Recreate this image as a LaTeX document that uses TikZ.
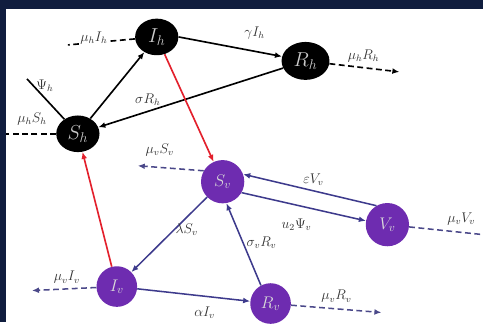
\documentclass[tikz,border=0pt]{standalone}
\usepackage{amsmath}
\usepackage{amssymb}
\usetikzlibrary{arrows.meta,shapes.geometric}
\definecolor{framenavy}{HTML}{101D3E}
\definecolor{vecpurple}{HTML}{6E2CB0}
\definecolor{vecline}{HTML}{3D3A8C}
\definecolor{infred}{HTML}{E3202C}

\begin{document}
\begin{tikzpicture}[x=0.03cm, y=-0.03cm,
  hostnode/.style={ellipse, fill=black, minimum width=1.3cm, minimum height=1.1cm,
              inner sep=0pt, text=white!80!black, font=\LARGE},
  vecnode/.style={circle, fill=vecpurple, minimum size=1.3cm,
              inner sep=0pt, text=white!85!black, font=\Large},
  lbl/.style={text=black!80, font=\fontsize{12}{14}\selectfont, inner sep=1pt},
  harr/.style={-{Latex[length=6pt,width=5pt]}, line width=1.4pt, color=black},
  hline/.style={line width=1.4pt, color=black},
  hdash/.style={line width=1.4pt, color=black, dash pattern=on 5pt off 3pt},
  redarr/.style={-{Latex[length=6pt,width=5pt]}, line width=1.4pt, color=infred},
  varr/.style={-{Latex[length=6pt,width=5pt]}, line width=1.3pt, color=vecline},
  vdash/.style={line width=1.3pt, color=vecline!80!gray, dash pattern=on 5pt off 3pt},
  vdasharr/.style={vdash, -{Latex[length=6pt,width=5pt]}}
]
% frame
\fill[framenavy] (0,0) rectangle (484,323);
\fill[white] (6,9) rectangle (484,323);

% compartments
\node[hostnode] (nIh) at (157,37) {$I_h$};
\node[hostnode, minimum width=1.44cm, minimum height=1.14cm] (nRh) at (306,61) {$R_h$};
\node[hostnode] (nSh) at (78,134) {$S_h$};
\node[vecnode] (nSv) at (223,182) {$S_v$};
\node[vecnode] (nVv) at (388,225) {$V_v$};
\node[vecnode, minimum size=1.22cm] (nIv) at (117,287) {$I_v$};
\node[vecnode, minimum size=1.22cm] (nRv) at (271,304) {$R_v$};

% free ends
\coordinate (cPsih) at (27,79);
\coordinate (cmuSh) at (6,134);
\coordinate (cmuIh) at (68,45);
\coordinate (cmuRh) at (400,72);
\coordinate (cmuSv) at (138,166);
\coordinate (cmuIv) at (32,291);
\coordinate (cmuRv) at (382,313);
\coordinate (cmuVv) at (484,235);

% human flows
\draw[harr] (nSh) -- (nIh);
\draw[harr] (nIh.east) -- (nRh);
\draw[harr] (nRh) -- (nSh);
\draw[hline] (cPsih) -- (nSh);
\draw[hdash] (nSh) -- (cmuSh);
\draw[hdash] (nIh) -- (cmuIh);
\draw[hdash, -{Latex[length=6pt,width=5pt]}] (nRh) -- (cmuRh);

% cross infection
\draw[redarr] (nIh) -- (nSv);
\draw[redarr] (nIv) -- (nSh);

% vector flows
\draw[varr] (nSv) -- (nIv);
\draw[varr] (nVv.120) -- (nSv.20);
\draw[varr] (nSv.-30) -- (nVv.170);
\draw[varr] (nRv.118) -- (nSv.-80);
\draw[varr] (nIv) -- (nRv);
\draw[vdasharr] (nSv.150) -- (cmuSv);
\draw[vdasharr] (nIv) -- (cmuIv);
\draw[vdasharr] (nRv) -- (cmuRv);
\draw[vdash] (nVv) -- (cmuVv);

% rates
\node[lbl] (lgIh) at (255,33) {$\gamma I_h$};
\node[lbl] (lsRh) at (148,100) {$\sigma R_h$};
\node[lbl] (lPsih) at (45,86) {$\Psi_h$};
\node[lbl] (lmuSh) at (32,119) {$\mu_h S_h$};
\node[lbl, fill=white] (lmuIh) at (94,38) {$\mu_h I_h$};
\node[lbl, fill=white] (lmuRh) at (364,56) {$\mu_h R_h$};
\node[lbl] (lmuSv) at (160,150) {$\mu_v S_v$};
\node[lbl] (llSv) at (187,230) {$\lambda S_v$};
\node[lbl] (leVv) at (314,180) {$\varepsilon V_v$};
\node[lbl] (luPsiv) at (297,225) {$u_2\Psi_v$};
\node[lbl] (lsRv) at (262,243) {$\sigma_v R_v$};
\node[lbl] (laIv) at (205,313) {$\alpha I_v$};
\node[lbl] (lmuIv) at (67,278) {$\mu_v I_v$};
\node[lbl] (lmuRv) at (337,297) {$\mu_v R_v$};
\node[lbl] (lmuVv) at (462,219) {$\mu_v V_v$};
\end{tikzpicture}
\end{document}
